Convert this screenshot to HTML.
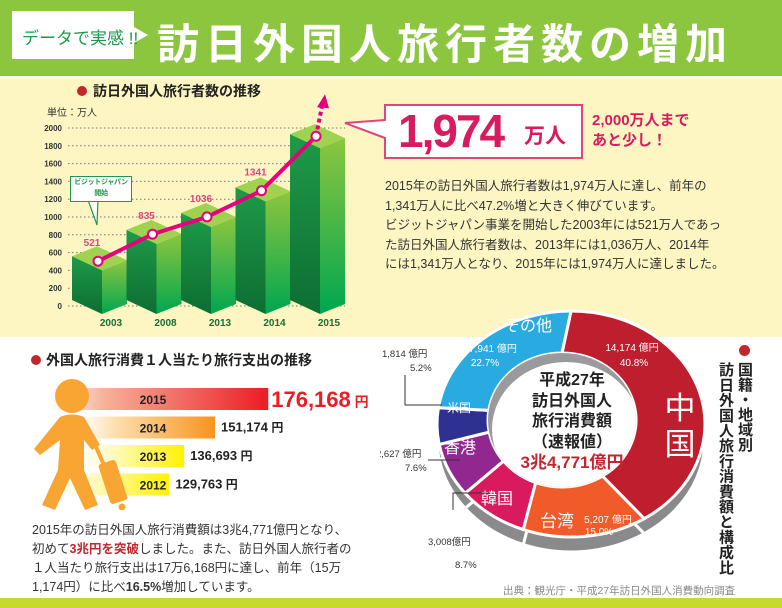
<!DOCTYPE html>
<html><head><meta charset="utf-8">
<style>
body{margin:0;width:782px;height:608px;overflow:hidden;background:#fff;font-family:"Liberation Sans","Noto Sans CJK JP",sans-serif;position:relative}
.abs{position:absolute}
.t{position:absolute;white-space:nowrap}
</style></head><body>
<div class="abs" style="left:0;top:0;width:782px;height:76px;background:#8cc63f"></div>
<div class="abs" style="left:0;top:76px;width:782px;height:261px;background:#fdf6c3;border-top:3px solid #fffbe0;box-sizing:border-box"></div>
<div class="abs" style="left:0;top:598px;width:782px;height:10px;background:#c8d92e"></div>
<div class="abs" style="left:12px;top:11px;width:122px;height:48px;background:#fff"></div>
<div class="abs" style="left:134px;top:27px;width:0;height:0;border-top:8px solid transparent;border-bottom:8px solid transparent;border-left:14px solid #fff"></div>
<div class="t" style="left:22px;top:24px;font-size:17px;color:#1a9a4a">データで実感 !!</div>
<div class="t" style="left:157px;top:11px;font-size:42px;font-weight:bold;color:#fff;letter-spacing:6px">訪日外国人旅行者数の増加</div>

<!-- visitor chart -->
<div class="abs" style="left:77px;top:86px;width:10px;height:10px;border-radius:50%;background:#c1272d"></div>
<div class="t" style="left:93px;top:81px;font-size:14px;font-weight:bold;color:#222">訪日外国人旅行者数の推移</div>
<div class="t" style="left:47px;top:104px;font-size:10px;color:#333">単位：万人</div>
<svg class="abs" id="vchart" style="left:0;top:0" width="380" height="340"></svg>
<div class="abs" style="left:70px;top:176px;width:60px;height:24px;background:#fff;border:1.5px solid #1a9a4a;font-size:7px;color:#1a9a4a;text-align:center;line-height:11px;font-weight:bold;white-space:nowrap;letter-spacing:-0.3px">ビジットジャパン<br>開始</div>

<!-- big number -->
<svg class="abs" style="left:340px;top:100px" width="250" height="65">
<path d="M45 5 H242 V58 H45 V38 L5 23 L45 20 Z" fill="#fff" stroke="#e0457b" stroke-width="2"/></svg>
<div class="t" style="left:398px;top:104px;font-size:46px;font-weight:bold;color:#d81b60;letter-spacing:-2px">1,974</div>
<div class="t" style="left:524px;top:120px;font-size:21px;font-weight:bold;color:#d81b60">万人</div>
<div class="t" style="left:592px;top:111px;font-size:15px;font-weight:bold;color:#d81b60;line-height:20px">2,000万人まで<br>あと少し！</div>
<div class="t" style="left:385px;top:177px;font-size:12.5px;color:#333;line-height:19.5px">2015年の訪日外国人旅行者数は1,974万人に達し、前年の<br>1,341万人に比べ47.2%増と大きく伸びています。<br>ビジットジャパン事業を開始した2003年には521万人であっ<br>た訪日外国人旅行者数は、2013年には1,036万人、2014年<br>には1,341万人となり、2015年には1,974万人に達しました。</div>

<!-- spending per person -->
<div class="abs" style="left:31px;top:355px;width:10px;height:10px;border-radius:50%;background:#c1272d"></div>
<div class="t" style="left:46px;top:350px;font-size:14px;font-weight:bold;color:#222">外国人旅行消費１人当たり旅行支出の推移</div>
<svg class="abs" id="schart" style="left:0;top:370px" width="390" height="140"></svg>
<div class="t" style="left:32px;top:521px;font-size:12.5px;color:#333;line-height:19px">2015年の訪日外国人旅行消費額は3兆4,771億円となり、<br>初めて<b style="color:#c1272d">3兆円を突破</b>しました。また、訪日外国人旅行者の<br>１人当たり旅行支出は17万6,168円に達し、前年（15万<br>1,174円）に比べ<b>16.5%</b>増加しています。</div>

<!-- donut -->
<svg class="abs" id="donut" style="left:380px;top:300px" width="340" height="300"></svg>
<div class="t" style="left:502px;top:371px;width:140px;text-align:center;font-size:16px;font-weight:bold;color:#222;line-height:20.5px">平成27年<br>訪日外国人<br>旅行消費額<br>（速報値）<br><span style="color:#c1272d;font-size:17px">3兆4,771億円</span></div>
<div class="abs" style="left:739px;top:345px;width:11px;height:11px;border-radius:50%;background:#c1272d"></div>
<div class="abs" style="left:735px;top:362px;writing-mode:vertical-rl;font-size:15px;font-weight:bold;color:#222;line-height:18px">国籍・地域別</div>
<div class="abs" style="left:716px;top:362px;writing-mode:vertical-rl;font-size:15px;font-weight:bold;color:#222;line-height:18px;letter-spacing:0.2px">訪日外国人旅行消費額と構成比</div>
<div class="t" style="left:503px;top:583px;font-size:10.5px;color:#888">出典：観光庁・平成27年訪日外国人消費動向調査</div>

<script>
const NS='http://www.w3.org/2000/svg';
function mk(p,tag,at){const e=document.createElementNS(NS,tag);for(const k in at)e.setAttribute(k,at[k]);p.appendChild(e);return e;}
// ---- visitor chart data
const years=['2003','2008','2013','2014','2015'];
const visitors=[521,835,1036,1341,1974];
const yTicks=[0,200,400,600,800,1000,1200,1400,1600,1800,2000];
const vs=document.getElementById('vchart');
const defs=mk(vs,'defs',{});
let g1=mk(defs,'linearGradient',{id:'gf',x1:0,y1:0,x2:0,y2:1});mk(g1,'stop',{offset:0,'stop-color':'#1e9a48'});mk(g1,'stop',{offset:1,'stop-color':'#0d6e33'});
let g2=mk(defs,'linearGradient',{id:'gs',x1:0,y1:0,x2:0,y2:1});mk(g2,'stop',{offset:0,'stop-color':'#8cc63f'});mk(g2,'stop',{offset:1,'stop-color':'#00a650'});
const yAxis=v=>306-v*0.089;
const yLine=v=>306-v*0.086;
const barH=v=>v*0.084;
const xBar=i=>72+i*54.5;
yTicks.forEach(t=>{
  const l=mk(vs,'line',{x1:68,x2:345,y1:yAxis(t),y2:yAxis(t),stroke:'#777','stroke-dasharray':'1.5 2.5','stroke-width':1});
  
  
  const tx=mk(vs,'text',{x:62,y:yAxis(t)+3,'text-anchor':'end','font-size':8,fill:'#333','font-weight':'bold'});tx.textContent=t;
  
  
});
visitors.forEach((v,i)=>{
  const x=xBar(i),h=barH(v);
  const g=mk(vs,'g',{});
  
  
  mk(g,'polygon',{points:`${x},${300} ${x+30},${314} ${x+30},${314-h} ${x},${300-h}`,fill:'url(#gf)'});
  mk(g,'polygon',{points:`${x+30},${314} ${x+55},${304} ${x+55},${304-h} ${x+30},${314-h}`,fill:'url(#gs)'});
  mk(g,'polygon',{points:`${x},${300-h} ${x+30},${314-h} ${x+55},${304-h} ${x+25},${290-h}`,fill:'#9fd24f'});
  const tx=mk(vs,'text',{x:x+39,y:326,'text-anchor':'middle','font-size':10,'font-weight':'bold',fill:'#1a6b35'});tx.textContent=years[i];
  
  
});
const pts=visitors.map((v,i)=>[xBar(i)+26,yLine(v)]);
const last=pts[pts.length-1];
const ar=mk(vs,'line',{x1:last[0],y1:last[1],x2:last[0]+6,y2:last[1]-30,stroke:'#e4007f','stroke-width':4,'stroke-dasharray':'4 3'});


mk(vs,'polygon',{points:`${last[0]+9},${last[1]-42} ${last[0]+1},${last[1]-29} ${last[0]+13},${last[1]-28}`,fill:'#e4007f'});
const pl=mk(vs,'polyline',{points:pts.map(p=>p.join(',')).join(' '),fill:'none',stroke:'#e4007f','stroke-width':4});


pts.forEach((p,i)=>{
  const c=mk(vs,'circle',{cx:p[0],cy:p[1],r:4.5,fill:'#fff',stroke:'#e4007f','stroke-width':2});
  
  
  if(i<visitors.length-1){const tx=mk(vs,'text',{x:p[0]-6,y:p[1]-15,'text-anchor':'middle','font-size':10,'font-weight':'bold',fill:'#e0457b'});tx.textContent=visitors[i];
  
  }
});
mk(vs,'polygon',{points:'88,200 98,200 97,225',fill:'#fff',stroke:'#1a9a4a','stroke-width':1.2});
// ---- spending chart
const spYears=['2015','2014','2013','2012'];
const spValues=[176168,151174,136693,129763];
const spLabels=['176,168','151,174','136,693','129,763'];
const sp=document.getElementById('schart');
const sd=mk(sp,'defs',{});
const cols=[['#f6b19a','#ec1c24'],['#fde0b0','#f7941d'],['#fffbd0','#fff200'],['#fffbd0','#fff200']];
cols.forEach((c,i)=>{const g=mk(sd,'linearGradient',{id:'sg'+i,x1:0,y1:0,x2:1,y2:0});mk(g,'stop',{offset:0,'stop-color':c[0],'stop-opacity':0});mk(g,'stop',{offset:0.25,'stop-color':c[0]});mk(g,'stop',{offset:1,'stop-color':c[1]});});
const xSp=v=>-107+v*0.00213;
spValues.forEach((v,i)=>{
  const y=18+i*28.5,x0=[50,80,80,60][i];
  const r=mk(sp,'rect',{x:x0,y:y,width:xSp(v)-x0,height:22,fill:'url(#sg'+i+')'});
  
  
});
// person
const pg=mk(sp,'g',{fill:'#f9a533'});


mk(pg,'circle',{cx:72,cy:26,r:17});
mk(pg,'path',{d:'M60 47 Q72 42 84 47 L100 75 L92 80 L84 70 L84 100 L98 135 L85 140 L70 108 L55 140 L42 135 L58 100 L60 70 L40 85 L34 79 Z'});
mk(pg,'rect',{x:104,y:91,width:18,height:42,rx:3,transform:'rotate(-18 113 112)'});
mk(pg,'line',{x1:96,y1:77,x2:104,y2:95,stroke:'#f9a533','stroke-width':4});
mk(pg,'circle',{cx:122,cy:137,r:3.5});
spValues.forEach((v,i)=>{
  const y=18+i*28.5;
  const yl=mk(sp,'text',{x:153,y:y+16,'text-anchor':'middle','font-size':12,'font-weight':'bold',fill:'#222'});yl.textContent=spYears[i];
  
  
  const big=i===0;
  const vl=mk(sp,'text',{x:xSp(v)+(big?3:6),y:y+(big?19:15),'font-size':big?22:13,'font-weight':'bold',fill:big?'#ec1c24':'#222'});vl.textContent=spLabels[i];
  const u=mk(vl,'tspan',{'font-size':big?14:12});u.textContent=' 円';
  
  
});
// ---- donut
const regions=['中国','台湾','韓国','香港','米国','その他'];
const shares=[40.8,15.0,8.7,7.6,5.2,22.7];
const amounts=['14,174','5,207','3,008','2,627','1,814','7,941'];
const dcols=['#be1e2d','#f15a29','#d91a5f','#92278f','#2e3192','#29abe2'];
const dn=document.getElementById('donut');
const cx=191,cy=124,rx=134,ry=113,icx=182,icy=120,irx=74,iry=67;
function seg(a0,a1,dy){
  const la=(a1-a0)>Math.PI?1:0;
  const A=[cx+rx*Math.cos(a0),cy+dy+ry*Math.sin(a0)],B=[cx+rx*Math.cos(a1),cy+dy+ry*Math.sin(a1)];
  const C=[icx+irx*Math.cos(a1),icy+dy+iry*Math.sin(a1)],D=[icx+irx*Math.cos(a0),icy+dy+iry*Math.sin(a0)];
  return `M${A} A${rx} ${ry} 0 ${la} 1 ${B} L${C} A${irx} ${iry} 0 ${la} 0 ${D} Z`;
}
const tot=shares.reduce((a,b)=>a+b,0);
let a=-Math.PI/2;
const angs=shares.map(s=>{const a0=a;a+=s/tot*2*Math.PI;return [a0,a];});
angs.forEach(([a0,a1])=>mk(dn,'path',{d:seg(a0,a1,15),fill:'#8a8a8c',stroke:'#fff','stroke-width':3}));
angs.forEach(([a0,a1],i)=>{
  const s=mk(dn,'path',{d:seg(a0,a1,0),fill:dcols[i],stroke:'#fff','stroke-width':3});
  
  
});
// inner wall
const dd=mk(dn,'defs',{});const cp=mk(dd,'clipPath',{id:'hole'});mk(cp,'ellipse',{cx:icx,cy:icy,rx:irx,ry:iry});
mk(dn,'ellipse',{cx:icx,cy:icy,rx:irx,ry:iry,fill:'#9a9a9c'});
mk(dn,'ellipse',{cx:icx+4,cy:icy+9,rx:irx,ry:iry,fill:'#fff','clip-path':'url(#hole)'});
function txt(x,y,s,sz,fill,extra){const t=mk(dn,'text',Object.assign({x:x,y:y,'font-size':sz,fill:fill},extra||{}));t.textContent=s;

return t;}
// China
txt(300,119,'中',31,'#fff',{'text-anchor':'middle'});txt(300,155,'国',31,'#fff',{'text-anchor':'middle'});
txt(252,51,amounts[0]+' 億円',10,'#fff',{'text-anchor':'middle'});txt(254,66,shares[0].toFixed(1)+'%',10,'#fff',{'text-anchor':'middle'});
// Taiwan
txt(177,227,'台湾',17,'#fff',{'text-anchor':'middle'});txt(228,223,amounts[1]+' 億円',10,'#fff',{'text-anchor':'middle'});txt(219,235,shares[1].toFixed(1)+'%',10,'#fff',{'text-anchor':'middle'});
// Korea
txt(117,204,'韓国',16,'#fff',{'text-anchor':'middle'});
txt(48,245,amounts[2]+'億円',9.5,'#333');txt(75,268,shares[2].toFixed(1)+'%',9.5,'#333');
mk(dn,'path',{d:'M110 193 H73 V210',fill:'none',stroke:'#333','stroke-width':1});
// Hong Kong
txt(80,153,'香港',16,'#fff',{'text-anchor':'middle'});
txt(-4,157,amounts[3]+' 億円',9.5,'#333');txt(25,171,shares[3].toFixed(1)+'%',9.5,'#333');
mk(dn,'line',{x1:48,y1:160,x2:80,y2:160,stroke:'#333','stroke-width':1});
// US
txt(79,112,'米国',12,'#fff',{'text-anchor':'middle'});
txt(2,57,amounts[4]+' 億円',9.5,'#333');txt(30,71,shares[4].toFixed(1)+'%',9.5,'#333');
mk(dn,'path',{d:'M25 75 V105 H62',fill:'none',stroke:'#333','stroke-width':1});
// Other
txt(148,31,'その他',16,'#fff',{'text-anchor':'middle'});
txt(113,52,amounts[5]+' 億円',10,'#fff',{'text-anchor':'middle'});txt(105,66,shares[5].toFixed(1)+'%',10,'#fff',{'text-anchor':'middle'});
</script>
</body></html>
